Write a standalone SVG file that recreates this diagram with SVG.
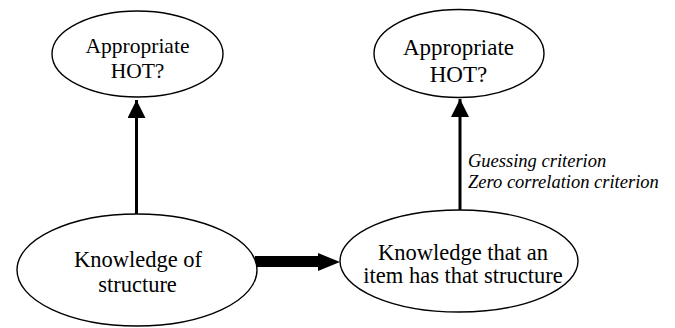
<svg xmlns="http://www.w3.org/2000/svg" width="675" height="328" viewBox="0 0 675 328">
<style>
.node ellipse{fill:#fff;stroke:#000;stroke-width:1.4}
.lbl{font-family:'Liberation Serif','DejaVu Serif',serif;font-size:22.5px;fill:#000;text-anchor:middle}
.crit{font-family:'Liberation Serif','DejaVu Serif',serif;font-size:18.5px;font-style:italic;fill:#000}
.edge{stroke:#000;stroke-width:3;fill:none}
</style>
<defs>
<marker id="ah" markerUnits="userSpaceOnUse" markerWidth="19" markerHeight="18" refX="18" refY="9" orient="auto" viewBox="0 0 19 18">
<path d="M0,0 L18,9 L0,18 Z" fill="#000"/>
</marker>
</defs>
<rect width="675" height="328" fill="#fff"/>
<g id="connectors">
<line class="edge" x1="136.5" y1="214" x2="136.5" y2="100" marker-end="url(#ah)"/>
<line class="edge" x1="460" y1="210" x2="460" y2="99" marker-end="url(#ah)"/>
<path d="M255,256 L318,256 L318,253 L340,262 L318,271 L318,267 L255,267 Z" fill="#000"/>
<g id="edge-label">
<text class="crit" x="468" y="167" font-family="Liberation Serif">Guessing criterion</text>
<text class="crit" x="468" y="188" font-family="Liberation Serif">Zero correlation criterion</text>
</g>
</g>
<g id="hot-left" class="node">
<ellipse cx="137.5" cy="54" rx="85.5" ry="43"/>
<text class="lbl" x="137.5" y="53" font-family="Liberation Serif" style="font-size:21.5px">Appropriate</text>
<text class="lbl" x="137.5" y="78" font-family="Liberation Serif" style="font-size:21.5px">HOT?</text>
</g>
<g id="hot-right" class="node">
<ellipse cx="459" cy="53.5" rx="85" ry="44"/>
<text class="lbl" x="458.5" y="55" font-family="Liberation Serif" style="font-size:23px">Appropriate</text>
<text class="lbl" x="458.5" y="82" font-family="Liberation Serif" style="font-size:23px">HOT?</text>
</g>
<g id="knowledge-structure" class="node">
<ellipse cx="137" cy="270" rx="120" ry="56"/>
<text class="lbl" x="138" y="267" font-family="Liberation Serif">Knowledge of</text>
<text class="lbl" x="137.5" y="292" font-family="Liberation Serif">structure</text>
</g>
<g id="knowledge-item" class="node">
<ellipse cx="459" cy="261" rx="119" ry="51"/>
<text class="lbl" x="463" y="260" font-family="Liberation Serif">Knowledge that an</text>
<text class="lbl" x="463" y="283" font-family="Liberation Serif">item has that structure</text>
</g>
</svg>
